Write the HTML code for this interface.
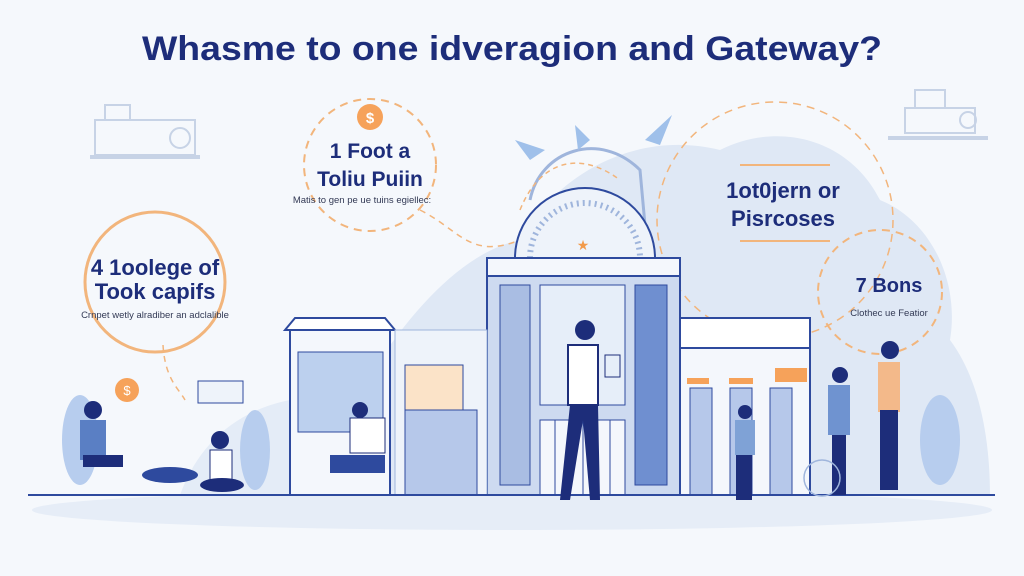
<!DOCTYPE html>
<html><head><meta charset="utf-8"><style>
html,body{margin:0;padding:0;background:#f5f8fc;}
svg{display:block;font-family:"Liberation Sans",sans-serif;}
</style></head><body>
<svg width="1024" height="576" viewBox="0 0 1024 576" xmlns="http://www.w3.org/2000/svg">
<rect width="1024" height="576" fill="#f5f8fc"/>
<!-- clouds -->
<path d="M240 495 C250 420 300 380 380 360 C420 300 470 250 520 240 C560 170 640 130 720 150 C780 120 850 140 880 200 C930 220 960 280 950 340 C980 380 990 440 990 495 Z" fill="#dfe8f5"/>
<path d="M180 495 C200 440 240 410 290 400 L300 495Z" fill="#e4ecf7"/>
<ellipse cx="512" cy="510" rx="480" ry="20" fill="#e6edf7"/>
<!-- title -->
<text x="512" y="60" text-anchor="middle" font-size="34" font-weight="bold" fill="#1d2d7a" textLength="740" lengthAdjust="spacingAndGlyphs">Whasme to one idveragion and Gateway?</text>
<!-- faint machines -->
<g fill="none" stroke="#c7d3e6" stroke-width="2"><rect x="95" y="120" width="100" height="35"/><rect x="105" y="105" width="25" height="15"/><circle cx="180" cy="138" r="10"/><line x1="90" y1="157" x2="200" y2="157" stroke-width="4"/></g>
<g fill="none" stroke="#c7d3e6" stroke-width="2"><rect x="905" y="108" width="70" height="25"/><rect x="915" y="90" width="30" height="18"/><circle cx="968" cy="120" r="8"/><line x1="888" y1="138" x2="988" y2="138" stroke-width="4"/></g>
<!-- circles -->
<circle cx="155" cy="282" r="70" fill="none" stroke="#f2b57c" stroke-width="3"/>
<circle cx="370" cy="165" r="66" fill="none" stroke="#f2b57c" stroke-width="2" stroke-dasharray="8 6"/>
<circle cx="775" cy="220" r="118" fill="none" stroke="#f2b57c" stroke-width="1.5" stroke-dasharray="8 6"/>
<circle cx="880" cy="292" r="62" fill="none" stroke="#f2b57c" stroke-width="2" stroke-dasharray="8 6"/>
<path d="M420 210 C460 230 470 260 520 240" fill="none" stroke="#f2b57c" stroke-width="1.5" stroke-dasharray="6 5"/>
<path d="M163 345 C165 380 180 390 185 400" fill="none" stroke="#f2b57c" stroke-width="1.5" stroke-dasharray="6 5"/>
<path d="M530 200 C540 150 600 130 640 170 L645 225" fill="none" stroke="#9fb5dc" stroke-width="3"/>
<path d="M520 210 C540 160 580 150 620 180" fill="none" stroke="#f2b57c" stroke-width="1.5" stroke-dasharray="5 4"/>
<g fill="#9fc0ea"><path d="M515 140 L545 150 L530 160Z"/><path d="M575 125 L590 140 L578 150Z"/><path d="M645 140 L672 115 L660 145Z"/></g>
<circle cx="370" cy="117" r="13" fill="#f6a25a"/><text x="370" y="123" text-anchor="middle" font-size="15" fill="#fff" font-weight="bold">$</text>
<!-- texts -->
<text x="370" y="158" text-anchor="middle" font-size="21" fill="#1d2d7a" font-weight="bold">1 Foot a</text>
<text x="370" y="186" text-anchor="middle" font-size="21" fill="#1d2d7a" font-weight="bold">Toliu Puiin</text>
<text x="362" y="203" text-anchor="middle" font-size="9.5" fill="#333a55">Matis to gen pe ue tuins egiellec:</text>
<text x="155" y="275" text-anchor="middle" font-size="22" fill="#1d2d7a" font-weight="bold">4 1oolege of</text>
<text x="155" y="299" text-anchor="middle" font-size="22" fill="#1d2d7a" font-weight="bold">Took capifs</text>
<text x="155" y="318" text-anchor="middle" font-size="9.5" fill="#333a55">Crnpet wetly alradiber an adclalible</text>
<line x1="740" y1="165" x2="830" y2="165" stroke="#f2b57c" stroke-width="2"/>
<line x1="740" y1="241" x2="830" y2="241" stroke="#f2b57c" stroke-width="2"/>
<text x="783" y="198" text-anchor="middle" font-size="22" fill="#1d2d7a" font-weight="bold">1ot0jern or</text>
<text x="783" y="226" text-anchor="middle" font-size="22" fill="#1d2d7a" font-weight="bold">Pisrcoses</text>
<text x="889" y="292" text-anchor="middle" font-size="20" fill="#1d2d7a" font-weight="bold">7 Bons</text>
<text x="889" y="316" text-anchor="middle" font-size="9.5" fill="#333a55">Clothec ue Featior</text>
<!-- dome -->
<path d="M515 258 A70 70 0 0 1 655 258 Z" fill="#eef3fa" stroke="#2e4a9e" stroke-width="2"/>
<path d="M530 258 A55 55 0 0 1 640 258" fill="none" stroke="#9fb5dc" stroke-width="6" stroke-dasharray="2 4"/>
<text x="583" y="250" text-anchor="middle" font-size="14" fill="#f29a4a">★</text>
<!-- main building -->
<rect x="487" y="258" width="193" height="237" fill="#cddaf0" stroke="#2e4a9e" stroke-width="2"/>
<rect x="487" y="258" width="193" height="18" fill="#f4f7fc" stroke="#2e4a9e" stroke-width="2"/>
<rect x="500" y="285" width="30" height="200" fill="#a9bde3" stroke="#2e4a9e"/>
<rect x="540" y="285" width="85" height="120" fill="#e6eef9" stroke="#2e4a9e"/>
<rect x="635" y="285" width="32" height="200" fill="#6f8fd0" stroke="#2e4a9e"/>
<rect x="540" y="420" width="85" height="75" fill="#f4f7fc" stroke="#2e4a9e"/>
<g stroke="#2e4a9e"><line x1="555" y1="420" x2="555" y2="495"/><line x1="583" y1="420" x2="583" y2="495"/><line x1="610" y1="420" x2="610" y2="495"/></g>
<!-- left building -->
<rect x="290" y="330" width="100" height="165" fill="#f4f7fc" stroke="#2e4a9e" stroke-width="2"/>
<path d="M285 330 L295 318 L385 318 L395 330Z" fill="#fff" stroke="#2e4a9e" stroke-width="2"/>
<rect x="298" y="352" width="85" height="80" fill="#bcd0ee" stroke="#2e4a9e"/>
<rect x="395" y="330" width="92" height="165" fill="#eef3fa" stroke="#9fb5dc"/>
<rect x="405" y="365" width="58" height="45" fill="#fbe3c8" stroke="#2e4a9e"/>
<rect x="405" y="410" width="72" height="85" fill="#b6c8ea" stroke="#2e4a9e"/>
<!-- right building -->
<rect x="680" y="330" width="130" height="165" fill="#f4f7fc" stroke="#2e4a9e" stroke-width="2"/>
<rect x="680" y="318" width="130" height="30" fill="#fff" stroke="#2e4a9e" stroke-width="2"/>
<g fill="#f6a25a"><rect x="687" y="378" width="22" height="6"/><rect x="729" y="378" width="24" height="6"/><rect x="775" y="368" width="32" height="14"/></g>
<g fill="#b6c8ea" stroke="#2e4a9e"><rect x="690" y="388" width="22" height="107"/><rect x="730" y="388" width="22" height="107"/><rect x="770" y="388" width="22" height="107"/></g>
<!-- plants -->
<g fill="#b7cdee"><ellipse cx="940" cy="440" rx="20" ry="45"/><ellipse cx="80" cy="440" rx="18" ry="45"/><ellipse cx="255" cy="450" rx="15" ry="40"/></g>
<!-- ground -->
<line x1="28" y1="495" x2="995" y2="495" stroke="#2e4a9e" stroke-width="2"/>
<!-- people -->
<g fill="#1d2d7a">
<circle cx="585" cy="330" r="10"/><rect x="568" y="345" width="30" height="60" fill="#fff" stroke="#1d2d7a" stroke-width="2"/><path d="M570 405 L560 500 L570 500 L583 420 L590 500 L600 500 L598 405Z"/>
<rect x="605" y="355" width="15" height="22" fill="#e6eef9" stroke="#1d2d7a"/>
<circle cx="745" cy="412" r="7"/><rect x="735" y="420" width="20" height="35" fill="#7fa2d6"/><rect x="736" y="455" width="16" height="45"/>
<circle cx="840" cy="375" r="8"/><rect x="828" y="385" width="22" height="50" fill="#6f93d0"/><rect x="832" y="435" width="14" height="60"/>
<circle cx="890" cy="350" r="9"/><rect x="878" y="362" width="22" height="50" fill="#f3b98a"/><rect x="880" y="410" width="18" height="80"/>
<circle cx="93" cy="410" r="9"/><rect x="80" y="420" width="26" height="40" fill="#5a7fc4"/><rect x="83" y="455" width="40" height="12"/>
<circle cx="220" cy="440" r="9"/><rect x="210" y="450" width="22" height="30" fill="#fff" stroke="#1d2d7a"/><ellipse cx="222" cy="485" rx="22" ry="7"/>
<circle cx="360" cy="410" r="8"/><rect x="350" y="418" width="35" height="35" fill="#fff" stroke="#1d2d7a"/><rect x="330" y="455" width="55" height="18" fill="#2e4a9e"/>
</g>
<circle cx="822" cy="478" r="18" fill="none" stroke="#9fb5dc" stroke-width="1.5"/>
<circle cx="127" cy="390" r="12" fill="#f6a25a"/><text x="127" y="395" font-size="13" text-anchor="middle" fill="#fff">$</text>
<rect x="198" y="381" width="45" height="22" fill="#eef3fa" stroke="#2e4a9e"/>
<ellipse cx="170" cy="475" rx="28" ry="8" fill="#2e4a9e"/>
</svg>
</body></html>
